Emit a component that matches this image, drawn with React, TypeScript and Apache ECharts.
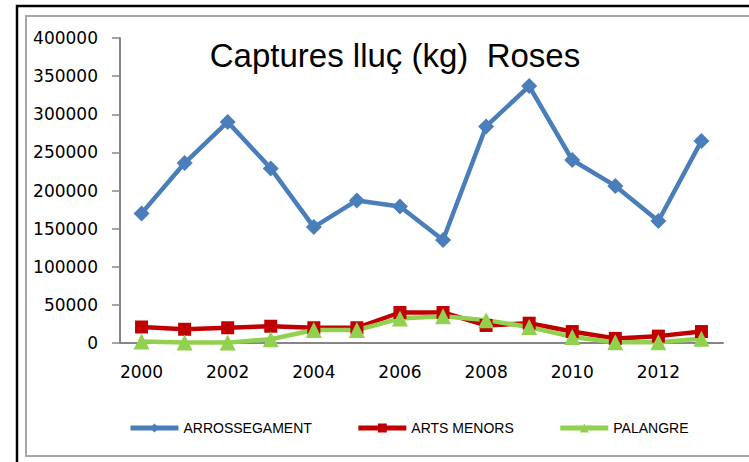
import React, { useEffect, useRef } from "react";
import * as echarts from "echarts";

const years = ["2000","2001","2002","2003","2004","2005","2006","2007","2008","2009","2010","2011","2012","2013"];
const arrossegament = [170000,236000,290000,229000,152000,187000,179000,135000,284000,337000,240000,206000,160000,265000];
const artsMenors = [21000,18000,20000,22000,20000,20000,40000,40000,23000,26000,15000,6000,9000,15000];
const palangre = [2000,500,500,5000,17000,17000,32000,35000,30000,21000,8000,1000,1000,5500];

export default function App() {
  const ref = useRef<HTMLDivElement>(null);
  useEffect(() => {
    if (!ref.current) return;
    const chart = echarts.init(ref.current, null, { renderer: "svg" });
    const axisColor = "#868686";
    chart.setOption({
      animation: false,
      backgroundColor: "#ffffff",
      title: {
        text: "Captures lluç (kg)  Roses",
        left: 390,
        top: 34,
        textAlign: "center",
        textStyle: { fontFamily: "Liberation Sans", fontWeight: "normal", fontSize: 33, color: "#000" },
      },
      graphic: [
        { type: "rect", shape: { x: 17, y: 6, width: 760, height: 480 }, style: { fill: "none", stroke: "#000", lineWidth: 2.5 } },
        { type: "rect", shape: { x: 26, y: 16, width: 760, height: 440 }, style: { fill: "none", stroke: "#a6a6a6", lineWidth: 2 } },
      ],
      grid: { left: 120, right: 26, top: 38, bottom: 119 },
      legend: {
        left: 123,
        top: 416,
        itemWidth: 48,
        itemHeight: 11,
        itemGap: 44,
        lineStyle: { width: 5 },
        textStyle: { fontFamily: "Liberation Sans", fontSize: 14, color: "#000" },
        data: ["ARROSSEGAMENT", "ARTS MENORS", "PALANGRE"],
      },
      xAxis: {
        type: "category",
        data: years,
        boundaryGap: true,
        axisLine: { lineStyle: { color: axisColor, width: 2 } },
        axisTick: { interval: 0, length: 6, lineStyle: { color: axisColor, width: 1.5 } },
        axisLabel: { interval: 1, color: "#000", fontSize: 17, fontFamily: "DejaVu Sans", margin: 20 },
        splitLine: { show: false },
      },
      yAxis: {
        type: "value",
        min: 0,
        max: 400000,
        interval: 50000,
        axisLine: { show: true, lineStyle: { color: axisColor, width: 2 } },
        axisTick: { show: true, length: 8, lineStyle: { color: axisColor, width: 1.5 } },
        axisLabel: { color: "#000", fontSize: 17, fontFamily: "DejaVu Sans", margin: 22, formatter: (v: number) => String(v) },
        splitLine: { show: false },
      },
      series: [
        {
          name: "ARROSSEGAMENT",
          type: "line",
          data: arrossegament,
          symbol: "diamond",
          symbolSize: 16,
          itemStyle: { color: "#4a7ebb" },
          lineStyle: { color: "#4a7ebb", width: 4.5 },
        },
        {
          name: "ARTS MENORS",
          type: "line",
          data: artsMenors,
          symbol: "rect",
          symbolSize: 13,
          itemStyle: { color: "#c00000" },
          lineStyle: { color: "#c00000", width: 4.5 },
        },
        {
          name: "PALANGRE",
          type: "line",
          data: palangre,
          symbol: "triangle",
          symbolSize: 16,
          itemStyle: { color: "#92d050" },
          lineStyle: { color: "#92d050", width: 4.5 },
        },
      ],
    });
    return () => chart.dispose();
  }, []);
  return <div ref={ref} style={{ position: "absolute", left: 0, top: 0, width: 749, height: 462 }} />;
}
